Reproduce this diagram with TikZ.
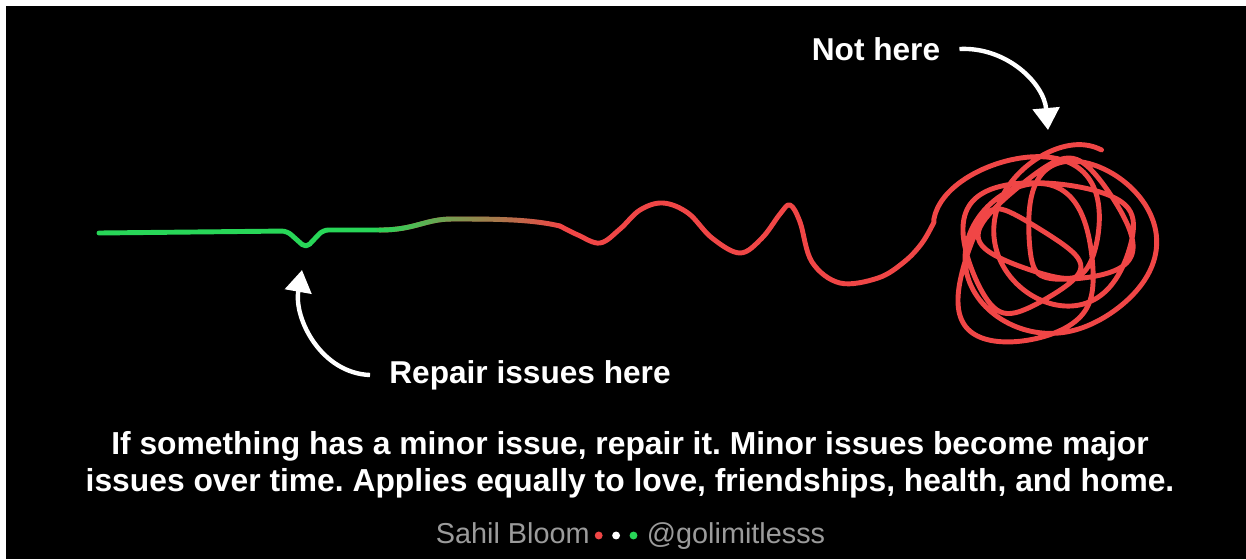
\documentclass[tikz,border=0pt]{standalone}
\usepackage{fontspec}
\setmainfont{Liberation Sans}
\usetikzlibrary{positioning,arrows.meta,fadings}
\definecolor{wirered}{RGB}{240,70,70}
\definecolor{wiregreen}{RGB}{40,214,88}
\definecolor{footgray}{RGB}{155,155,155}
\tikzfading[name=fade to red, left color=transparent!0, right color=transparent!100]
\frenchspacing

\begin{document}
\begin{tikzpicture}[x=0.02cm, y=-0.02cm,
    wire/.style={line width=2.8pt, line cap=round, line join=round},
    pointer/.style={white, line width=2.5pt, -{Triangle[width=15pt,length=12.5pt]}},
    callout/.style={text=white, font=\fontsize{18}{21}\selectfont\bfseries, inner sep=0pt, outer sep=11pt},
    foot/.style={text=footgray, font=\fontsize{16.4}{20}\selectfont, inner sep=0pt, text height=0.72em, text depth=0.22em},
    dot/.style={circle, inner sep=0pt, minimum size=4.5pt}]

  \useasboundingbox (0,0) rectangle (1246,559);
  \fill[white] (0,0) rectangle (1246,559);
  \fill[black] (6,6) rectangle (1246,559);

  % the line: green, small kink, turning red, then the knot
  \draw[wire, wiregreen, rounded corners=3pt] (99,233) -- (287,231) -- (306,248) -- (323,230) -- (380,230);
  \draw[wire, wirered] (380,230) .. controls (415,230) and (425,219) .. (452,219) .. controls (495,219) and (530,219) .. (560,226);
  \draw[wire, wiregreen, path fading=fade to red] (380,230) .. controls (415,230) and (425,219) .. (452,219) .. controls (495,219) and (530,219) .. (560,226);
  \draw[wire, wirered] plot[smooth, tension=0.6] coordinates {(560,226) (578,235) (600,243) (620,229) (640,210) (663,203) (688,213) (712,238) (740,253) (762,238) (780,214) (790,205) (800,222) (812,262) (840,283) (878,278) (904,262) (922,243) (934,222)}
    -- plot[variable=\t, domain=200:2450, samples=420, smooth]
      ({1048+35*cos(0.23*\t+150)+(68+14*sin(0.37*\t))*cos(\t)+8*cos(2.4*\t)},
       {247+28*sin(0.19*\t+160)+(68+14*cos(0.29*\t))*sin(\t)+8*sin(2.1*\t)});

  % callouts
  \node[callout] (nothere) at (876,49) {Not here};
  \node[callout] (repair) at (530,375) {Repair issues here};
  \coordinate (knottip) at (1048,130);
  \coordinate (kinktip) at (302,270);
  \draw[pointer] (nothere.east) to[out=3, in=95] (knottip);
  \draw[pointer] (repair.west) to[out=178, in=-100] (kinktip);

  \node[text=white, font=\fontsize{18.1}{21}\selectfont\bfseries, align=center] (moral) at (630,465) {If something has a minor issue, repair it. Minor issues become major\\issues over time. Applies equally to love, friendships, health, and home.};

  % footer
  \node[foot, anchor=east] (author) at (590,539) {Sahil Bloom};
  \node[dot, fill=wirered, right=2.5pt of author, yshift=2pt] (reddot) {};
  \node[dot, fill=white, right=5pt of reddot] (whitedot) {};
  \node[dot, fill=wiregreen, right=5pt of whitedot] (greendot) {};
  \node[foot, right=5pt of greendot, yshift=-2pt] (handle) {@golimitlesss};
\end{tikzpicture}
\end{document}
